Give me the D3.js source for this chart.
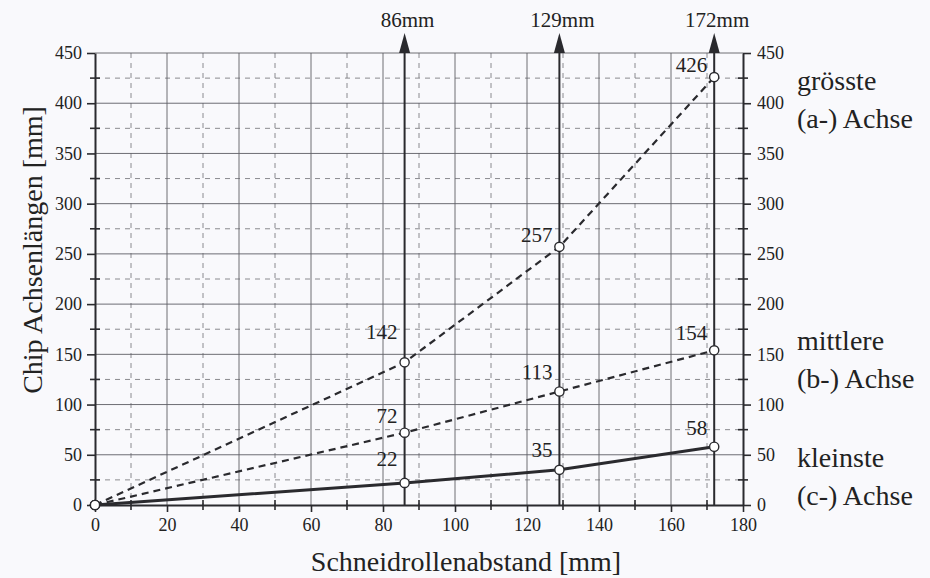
<!DOCTYPE html>
<html>
<head>
<meta charset="utf-8">
<script src="https://cdn.jsdelivr.net/npm/d3@7"></script>
<style>
  body { margin: 0; background: #f9f9fc; }
  svg { display: block; font-family: "Liberation Serif", "Times New Roman", serif; }
</style>
</head>
<body>
<svg id="chart"></svg>
<script>
// data
var positions = [0, 86, 129, 172];          // Schneidrollenabstand [mm]
var largestAxis = [0, 142, 257, 426];       // (a-) Achse
var middleAxis = [0, 72, 113, 154];         // (b-) Achse
var smallestAxis = [0, 22, 35, 58];         // (c-) Achse
var markerPositions = [86, 129, 172];
var markerLabels = ["86mm", "129mm", "172mm"];
var xTicks = [0, 20, 40, 60, 80, 100, 120, 140, 160, 180];
var xMinor = [10, 30, 50, 70, 90, 110, 130, 150, 170];
var yTicks = [0, 50, 100, 150, 200, 250, 300, 350, 400, 450];
var yMinor = [25, 75, 125, 175, 225, 275, 325, 375, 425];
var legendLines = [["grösste", "(a-) Achse"], ["mittlere", "(b-) Achse"], ["kleinste", "(c-) Achse"]];

var W = 930, H = 578;
var margin = {top: 53, right: 187, bottom: 73, left: 95};
var ink = "#2a2a2e";
var serif = "'Liberation Serif', 'Times New Roman', serif";

var svg = d3.select("#chart").attr("width", W).attr("height", H);
var g = svg.append("g").attr("transform", "translate(" + margin.left + "," + margin.top + ")");
var iw = W - margin.left - margin.right, ih = H - margin.top - margin.bottom;

var x = d3.scaleLinear().domain([0, 180]).range([0, iw]);
var y = d3.scaleLinear().domain([0, 450]).range([ih, 0]);

////grid
var grid = g.append("g");
grid.selectAll("line.vmin").data(xMinor).enter().append("line")
  .attr("x1", d => x(d)).attr("x2", d => x(d)).attr("y1", 0).attr("y2", ih)
  .attr("stroke", "#6e6e74").attr("stroke-width", 0.8).attr("stroke-dasharray", "5,5");
grid.selectAll("line.hmin").data(yMinor).enter().append("line")
  .attr("x1", 0).attr("x2", iw).attr("y1", d => y(d)).attr("y2", d => y(d))
  .attr("stroke", "#6e6e74").attr("stroke-width", 0.8).attr("stroke-dasharray", "5,5");
grid.selectAll("line.vmaj").data(xTicks.slice(1, -1)).enter().append("line")
  .attr("x1", d => x(d)).attr("x2", d => x(d)).attr("y1", 0).attr("y2", ih)
  .attr("stroke", "#5e5e64").attr("stroke-width", 0.9);
grid.selectAll("line.hmaj").data(yTicks.slice(1)).enter().append("line")
  .attr("x1", 0).attr("x2", iw).attr("y1", d => y(d)).attr("y2", d => y(d))
  .attr("stroke", "#5e5e64").attr("stroke-width", 0.9);

////axes
function styleAxis(sel) {
  sel.attr("font-family", serif).attr("font-size", 18);
  sel.select(".domain").attr("stroke", ink).attr("stroke-width", 2);
  sel.selectAll(".tick line").attr("stroke", ink).attr("stroke-width", 1.6);
  sel.selectAll(".tick text").attr("fill", "#222");
}
var xAxis = g.append("g").attr("transform", "translate(0," + ih + ")")
  .call(d3.axisBottom(x).tickValues(xTicks).tickSizeInner(7).tickSizeOuter(0).tickPadding(6).tickFormat(d3.format("d")));
styleAxis(xAxis);
var yAxisL = g.append("g")
  .call(d3.axisLeft(y).tickValues(yTicks).tickSizeInner(8).tickSizeOuter(0).tickPadding(5).tickFormat(d3.format("d")));
styleAxis(yAxisL);
var yAxisR = g.append("g").attr("transform", "translate(" + iw + ",0)")
  .call(d3.axisRight(y).tickValues(yTicks).tickSizeInner(8).tickSizeOuter(0).tickPadding(6).tickFormat(d3.format("d")));
styleAxis(yAxisR);

//minor ticks straddle the axis
var minor = g.append("g").attr("stroke", ink).attr("stroke-width", 1.6);
minor.selectAll("line.mx").data(xMinor).enter().append("line")
  .attr("x1", d => x(d)).attr("x2", d => x(d)).attr("y1", ih - 5).attr("y2", ih + 5);
minor.selectAll("line.myl").data(yMinor).enter().append("line")
  .attr("x1", -5).attr("x2", 5).attr("y1", d => y(d)).attr("y2", d => y(d));
minor.selectAll("line.myr").data(yMinor).enter().append("line")
  .attr("x1", iw - 5).attr("x2", iw + 5).attr("y1", d => y(d)).attr("y2", d => y(d));

////marker lines with arrows
var markers = g.append("g");
markers.selectAll("line").data(markerPositions).enter().append("line")
  .attr("x1", d => x(d)).attr("x2", d => x(d)).attr("y1", ih).attr("y2", -4)
  .attr("stroke", ink).attr("stroke-width", 2);
markers.selectAll("path").data(markerPositions).enter().append("path")
  .attr("d", d => "M" + (x(d) - 5.5) + ",0 L" + x(d) + ",-20 L" + (x(d) + 5.5) + ",0 Z")
  .attr("fill", ink);
markers.selectAll("text").data(markerPositions).enter().append("text")
  .attr("x", d => x(d) + 3).attr("y", -26)
  .attr("text-anchor", "middle").style("font-size", "21px").attr("fill", "#222")
  .text((d, i) => markerLabels[i]);

////series
var series = [
  {values: largestAxis, dash: "7,5", width: 2.2, lift: [0, 21, 3, 3]},
  {values: middleAxis, dash: "7,5", width: 2.2, lift: [0, 8, 10, 8]},
  {values: smallestAxis, dash: null, width: 3, lift: [0, 15, 11, 10]}
];
var line = d3.line().x(d => x(d[0])).y(d => y(d[1]));

series.forEach(function (s) {
  var pts = positions.map((p, i) => [p, s.values[i]]);
  g.append("path").datum(pts).attr("d", line)
    .attr("fill", "none").attr("stroke", ink).attr("stroke-width", s.width)
    .attr("stroke-dasharray", s.dash);
});
series.forEach(function (s) {
  var pts = positions.map((p, i) => [p, s.values[i], s.lift[i]]);
  g.selectAll(null).data(pts).enter().append("circle")
    .attr("cx", d => x(d[0])).attr("cy", d => y(d[1])).attr("r", 4.6)
    .attr("fill", "#fff").attr("stroke", ink).attr("stroke-width", 1.4);
  g.selectAll(null).data(pts.slice(1)).enter().append("text")
    .attr("x", d => x(d[0]) - 7).attr("y", d => y(d[1]) - d[2] - 2)
    .attr("text-anchor", "end").style("font-size", "21px").attr("fill", "#222")
    .text(d => d[1]);
});

////titles
svg.append("text")
  .attr("transform", "translate(42,250) rotate(-90)")
  .attr("text-anchor", "middle").style("font-size", "28px").attr("fill", "#222")
  .text("Chip Achsenlängen [mm]");
svg.append("text")
  .attr("x", 466).attr("y", 571)
  .attr("text-anchor", "middle").style("font-size", "28px").attr("fill", "#222")
  .text("Schneidrollenabstand [mm]");

//right side legend text
var legendBase = [90, 350, 467];
legendLines.forEach(function (pair, i) {
  pair.forEach(function (t, j) {
    svg.append("text")
      .attr("x", 797).attr("y", legendBase[i] + j * 38)
      .style("font-size", "28px").attr("fill", "#222")
      .text(t);
  });
});
</script>
</body>
</html>
